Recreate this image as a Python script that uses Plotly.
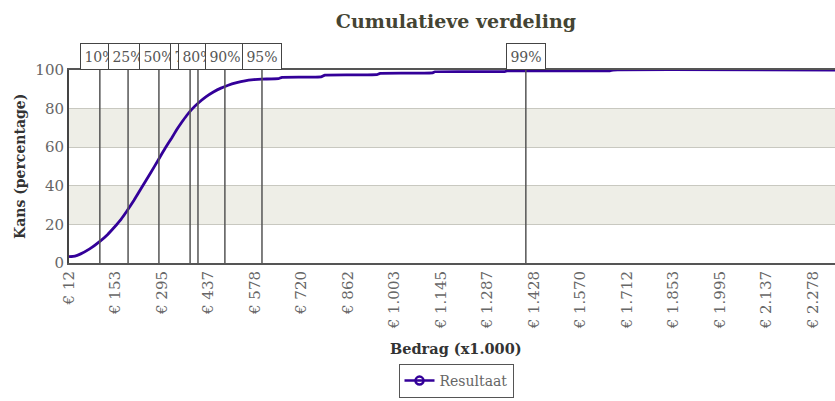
import plotly.graph_objects as go

# Cumulative distribution (amount x1.000 vs probability %)
bedrag = [12, 30, 46, 75, 106, 130, 150, 170, 188, 210, 233, 260, 284, 305, 325, 340, 355, 370,
          386, 406, 430, 452, 475, 497, 520, 548, 575, 599, 650, 661, 780, 792, 950, 960,
          1120, 1127, 1340, 1347, 1660, 1670, 2346]
kans = [3.3, 3.6, 4.6, 7.3, 11.2, 14.8, 18.5, 22.5, 26.8, 32.5, 39.0, 46.5, 53.4, 59.5, 64.8,
        69.0, 72.8, 76.3, 79.6, 82.9, 86.2, 88.6, 90.6, 92.1, 93.3, 94.4, 95.0, 95.3, 95.5,
        96.2, 96.4, 97.4, 97.6, 98.3, 98.5, 99.1, 99.2, 99.5, 99.6, 100, 100]

# Percentile markers
perc_labels = ["10%", "25%", "50%", "75%", "80%", "90%", "95%", "99%"]
perc_values = [106, 192, 286, 381, 405, 487, 600, 1404]

# X tick positions and labels
tick_vals = [12, 153.67, 295.33, 437, 578.67, 720.33, 862, 1003.67, 1145.33, 1287,
             1428.67, 1570.33, 1712, 1853.67, 1995.33, 2137, 2278.67]
tick_text = ["€ 12", "€ 153", "€ 295", "€ 437", "€ 578", "€ 720", "€ 862", "€ 1.003",
             "€ 1.145", "€ 1.287", "€ 1.428", "€ 1.570", "€ 1.712", "€ 1.853", "€ 1.995",
             "€ 2.137", "€ 2.278"]
y_ticks = [0, 20, 40, 60, 80, 100]
bands = [(20, 40), (60, 80)]

FONT = "DejaVu Serif"
GRAY = "#666666"
LINE = "#330099"

L, T, B, R = 69, 70, 138, 0
PW, PH = 835 - L - R, 401 - T - B

fig = go.Figure()

fig.add_trace(go.Scatter(
    x=bedrag, y=kans, mode="lines", name="Resultaat", showlegend=False,
    line=dict(color=LINE, width=2.8, shape="spline", smoothing=0.3),
))
# legend entry (line with open circle)
fig.add_trace(go.Scatter(
    x=[None], y=[None], mode="lines+markers", name="Resultaat",
    line=dict(color=LINE, width=2.5),
    marker=dict(symbol="circle-open", size=8, color=LINE, line=dict(width=2.5)),
))

shapes = []
for y0, y1 in bands:
    shapes.append(dict(type="rect", xref="paper", yref="y", x0=0, x1=1, y0=y0, y1=y1,
                       fillcolor="#eeeee7", line=dict(width=0), layer="below"))
for v in perc_values:
    shapes.append(dict(type="line", xref="x", yref="y", x0=v, x1=v, y0=0, y1=100,
                       line=dict(color="#555555", width=1.5), layer="above"))

annotations = []
for lab, v in zip(perc_labels, perc_values):
    annotations.append(dict(x=v, y=1, xref="x", yref="paper", text=lab, showarrow=False,
                            yanchor="bottom", xanchor="center", width=36, height=23,
                            bgcolor="white", bordercolor="#444444", borderwidth=1, borderpad=1,
                            font=dict(family=FONT, size=14, color="#555555")))
annotations.append(dict(x=(456 - L) / PW, y=(T + PH - 348) / PH, xref="paper", yref="paper",
                        xanchor="center", yanchor="middle",
                        text="<b>Bedrag (x1.000)</b>", showarrow=False,
                        font=dict(family=FONT, size=14.5, color="#333333")))
annotations.append(dict(x=(20 - L) / PW, y=(T + PH - 167) / PH, xref="paper", yref="paper",
                        xanchor="center", yanchor="middle",
                        text="<b>Kans (percentage)</b>", showarrow=False, textangle=-90,
                        font=dict(family=FONT, size=14, color="#333333")))

fig.update_layout(
    width=835, height=401,
    margin=dict(l=L, r=R, t=T, b=B, autoexpand=False),
    paper_bgcolor="white", plot_bgcolor="white",
    title=dict(text="<b>Cumulatieve verdeling</b>", x=456 / 835, xref="container",
               xanchor="center", y=1 - 21 / 401, yanchor="middle",
               font=dict(family=FONT, size=19, color="#444433")),
    xaxis=dict(range=[12, 2346], tickmode="array", tickvals=tick_vals, ticktext=tick_text,
               tickangle=-90, tickfont=dict(family=FONT, size=15, color=GRAY),
               showgrid=False, zeroline=False, showline=True, linecolor="#555555",
               linewidth=2, ticks="", mirror=True, automargin=False),
    yaxis=dict(range=[0, 100], tickvals=y_ticks,
               tickfont=dict(family=FONT, size=15, color=GRAY),
               showgrid=True, gridcolor="#c8c8c0", gridwidth=1, zeroline=False,
               showline=True, linecolor="#444444", linewidth=2, ticks="", automargin=False),
    shapes=shapes,
    annotations=annotations,
    showlegend=True,
    legend=dict(orientation="h", xref="container", x=456 / 835, xanchor="center",
                yref="container", y=1 - 381 / 401, yanchor="middle",
                bordercolor="#555555", borderwidth=1, bgcolor="white",
                font=dict(family=FONT, size=14, color=GRAY)),
)

fig.write_html("out.html", config={"displayModeBar": False},
               post_script="document.body.style.margin='0';document.body.style.overflow='hidden';")
